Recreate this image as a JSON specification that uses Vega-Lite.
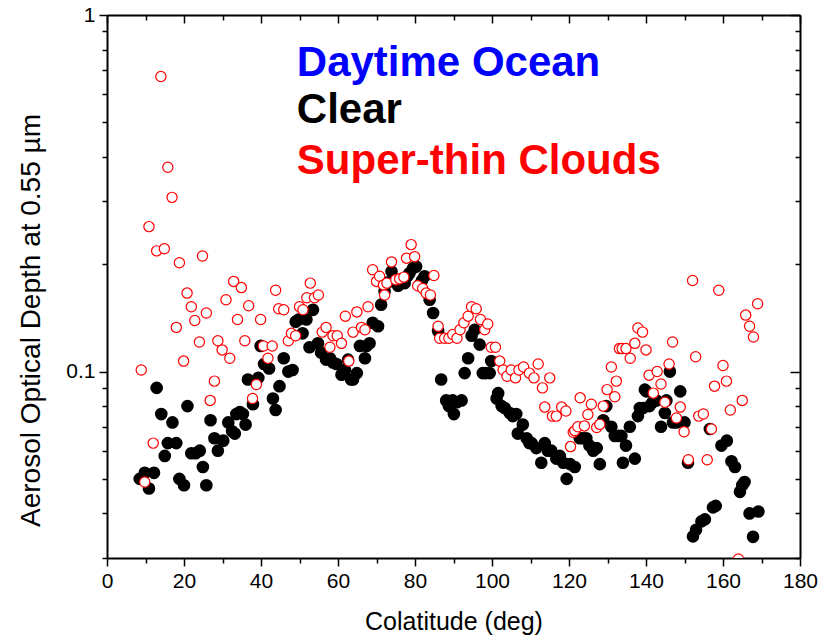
{
  "$schema": "https://vega.github.io/schema/vega-lite/v6.json",
  "width": 693,
  "height": 543,
  "autosize": {"type": "none"},
  "padding": {"left": 107, "top": 15, "right": 31, "bottom": 83},
  "background": "white",
  "config": {
    "view": {"stroke": null},
    "font": "Liberation Sans",
    "axis": {"grid": false, "domainColor": "black", "domainWidth": 2, "tickColor": "black", "tickWidth": 1.5, "labelColor": "black", "titleColor": "black", "labelFont": "Liberation Sans", "titleFont": "Liberation Sans", "titleFontWeight": "normal"}
  },
  "datasets": {
    "clear": [
      {"x": 8.5, "aod": 0.050}, {"x": 9.8, "aod": 0.052}, {"x": 10.9, "aod": 0.047}, {"x": 12.2, "aod": 0.052}, {"x": 12.9, "aod": 0.090},
      {"x": 14.1, "aod": 0.076}, {"x": 15.0, "aod": 0.058}, {"x": 15.8, "aod": 0.063}, {"x": 17.0, "aod": 0.072}, {"x": 18.0, "aod": 0.063},
      {"x": 18.8, "aod": 0.050}, {"x": 20.0, "aod": 0.048}, {"x": 20.9, "aod": 0.080}, {"x": 21.9, "aod": 0.059}, {"x": 23.0, "aod": 0.059},
      {"x": 24.1, "aod": 0.060}, {"x": 24.9, "aod": 0.054}, {"x": 25.8, "aod": 0.048}, {"x": 26.9, "aod": 0.073}, {"x": 27.9, "aod": 0.065},
      {"x": 28.8, "aod": 0.060}, {"x": 30.2, "aod": 0.064}, {"x": 31.5, "aod": 0.072}, {"x": 32.5, "aod": 0.068}, {"x": 33.2, "aod": 0.067},
      {"x": 33.6, "aod": 0.076}, {"x": 34.5, "aod": 0.077}, {"x": 35.3, "aod": 0.076}, {"x": 36.0, "aod": 0.071}, {"x": 36.6, "aod": 0.095},
      {"x": 37.9, "aod": 0.081}, {"x": 39.3, "aod": 0.096}, {"x": 39.9, "aod": 0.118}, {"x": 40.8, "aod": 0.105}, {"x": 42.1, "aod": 0.102},
      {"x": 43.1, "aod": 0.084}, {"x": 43.8, "aod": 0.078}, {"x": 44.8, "aod": 0.091}, {"x": 45.9, "aod": 0.109}, {"x": 47.1, "aod": 0.100},
      {"x": 48.2, "aod": 0.101}, {"x": 49.0, "aod": 0.138}, {"x": 49.8, "aod": 0.140}, {"x": 50.8, "aod": 0.128}, {"x": 51.8, "aod": 0.140},
      {"x": 52.6, "aod": 0.117}, {"x": 53.5, "aod": 0.149}, {"x": 54.8, "aod": 0.120}, {"x": 55.6, "aod": 0.113}, {"x": 56.9, "aod": 0.108},
      {"x": 57.9, "aod": 0.109}, {"x": 58.7, "aod": 0.106}, {"x": 59.6, "aod": 0.105}, {"x": 60.9, "aod": 0.098}, {"x": 61.8, "aod": 0.101},
      {"x": 62.6, "aod": 0.108}, {"x": 63.4, "aod": 0.095}, {"x": 63.9, "aod": 0.095}, {"x": 64.9, "aod": 0.099}, {"x": 65.7, "aod": 0.118},
      {"x": 67.0, "aod": 0.109}, {"x": 67.4, "aod": 0.118}, {"x": 68.2, "aod": 0.120}, {"x": 69.0, "aod": 0.137}, {"x": 70.4, "aod": 0.134},
      {"x": 71.2, "aod": 0.154}, {"x": 72.1, "aod": 0.168}, {"x": 73.0, "aod": 0.178}, {"x": 73.9, "aod": 0.191}, {"x": 74.8, "aod": 0.180},
      {"x": 75.6, "aod": 0.174}, {"x": 76.5, "aod": 0.180}, {"x": 77.3, "aod": 0.177}, {"x": 78.0, "aod": 0.185}, {"x": 78.6, "aod": 0.189},
      {"x": 79.5, "aod": 0.195}, {"x": 80.3, "aod": 0.197}, {"x": 81.2, "aod": 0.175}, {"x": 81.8, "aod": 0.180}, {"x": 82.5, "aod": 0.185},
      {"x": 83.8, "aod": 0.159}, {"x": 84.7, "aod": 0.146}, {"x": 86.0, "aod": 0.130}, {"x": 86.8, "aod": 0.095}, {"x": 88.1, "aod": 0.083},
      {"x": 88.8, "aod": 0.080}, {"x": 89.8, "aod": 0.083}, {"x": 90.1, "aod": 0.076}, {"x": 90.9, "aod": 0.082}, {"x": 92.1, "aod": 0.083},
      {"x": 92.9, "aod": 0.099}, {"x": 93.8, "aod": 0.109}, {"x": 94.7, "aod": 0.126}, {"x": 95.5, "aod": 0.131}, {"x": 96.8, "aod": 0.119},
      {"x": 97.6, "aod": 0.099}, {"x": 98.4, "aod": 0.099}, {"x": 99.4, "aod": 0.099}, {"x": 99.8, "aod": 0.107}, {"x": 101.2, "aod": 0.084},
      {"x": 101.6, "aod": 0.087}, {"x": 102.5, "aod": 0.080}, {"x": 103.3, "aod": 0.079}, {"x": 104.6, "aod": 0.0765}, {"x": 105.4, "aod": 0.075},
      {"x": 106.3, "aod": 0.076}, {"x": 106.7, "aod": 0.067}, {"x": 108.0, "aod": 0.071}, {"x": 109.0, "aod": 0.065}, {"x": 109.7, "aod": 0.063},
      {"x": 110.3, "aod": 0.063}, {"x": 111.5, "aod": 0.061}, {"x": 112.8, "aod": 0.0555}, {"x": 113.7, "aod": 0.063}, {"x": 114.5, "aod": 0.060},
      {"x": 115.4, "aod": 0.060}, {"x": 116.7, "aod": 0.057}, {"x": 117.6, "aod": 0.058}, {"x": 118.5, "aod": 0.0555}, {"x": 119.4, "aod": 0.050},
      {"x": 120.3, "aod": 0.055}, {"x": 121.5, "aod": 0.054}, {"x": 122.8, "aod": 0.065}, {"x": 123.6, "aod": 0.065}, {"x": 124.5, "aod": 0.065},
      {"x": 125.3, "aod": 0.062}, {"x": 126.3, "aod": 0.060}, {"x": 127.2, "aod": 0.061}, {"x": 128.0, "aod": 0.055}, {"x": 128.9, "aod": 0.073},
      {"x": 129.7, "aod": 0.080}, {"x": 131.0, "aod": 0.070}, {"x": 131.9, "aod": 0.066}, {"x": 132.8, "aod": 0.066}, {"x": 133.6, "aod": 0.066},
      {"x": 134.0, "aod": 0.0555}, {"x": 134.8, "aod": 0.062}, {"x": 135.8, "aod": 0.070}, {"x": 137.1, "aod": 0.057}, {"x": 137.9, "aod": 0.075},
      {"x": 138.4, "aod": 0.079}, {"x": 139.2, "aod": 0.079}, {"x": 139.7, "aod": 0.089}, {"x": 140.1, "aod": 0.088}, {"x": 140.9, "aod": 0.080},
      {"x": 141.7, "aod": 0.082}, {"x": 142.7, "aod": 0.083}, {"x": 143.9, "aod": 0.070}, {"x": 144.9, "aod": 0.0765}, {"x": 145.3, "aod": 0.083},
      {"x": 146.2, "aod": 0.100}, {"x": 147.0, "aod": 0.072}, {"x": 147.9, "aod": 0.072}, {"x": 148.9, "aod": 0.088}, {"x": 150.0, "aod": 0.072},
      {"x": 150.9, "aod": 0.0555}, {"x": 152.2, "aod": 0.0345}, {"x": 153.0, "aod": 0.036}, {"x": 154.4, "aod": 0.038}, {"x": 155.3, "aod": 0.0385},
      {"x": 156.6, "aod": 0.069}, {"x": 157.4, "aod": 0.0416}, {"x": 158.1, "aod": 0.042}, {"x": 159.6, "aod": 0.062}, {"x": 161.0, "aod": 0.064},
      {"x": 162.2, "aod": 0.056}, {"x": 163.1, "aod": 0.054}, {"x": 164.4, "aod": 0.046}, {"x": 165.0, "aod": 0.048}, {"x": 165.6, "aod": 0.049},
      {"x": 166.9, "aod": 0.040}, {"x": 167.8, "aod": 0.0344}, {"x": 169.2, "aod": 0.0405}
    ],
    "thin": [
      {"x": 8.9, "aod": 0.101}, {"x": 9.8, "aod": 0.049}, {"x": 10.9, "aod": 0.255}, {"x": 12.0, "aod": 0.063}, {"x": 12.9, "aod": 0.218},
      {"x": 14.0, "aod": 0.672}, {"x": 14.9, "aod": 0.221}, {"x": 15.8, "aod": 0.374}, {"x": 16.9, "aod": 0.308}, {"x": 18.0, "aod": 0.133},
      {"x": 18.8, "aod": 0.202}, {"x": 19.9, "aod": 0.107}, {"x": 20.8, "aod": 0.166}, {"x": 21.9, "aod": 0.152}, {"x": 22.8, "aod": 0.139},
      {"x": 24.0, "aod": 0.121}, {"x": 24.8, "aod": 0.211}, {"x": 25.8, "aod": 0.146}, {"x": 26.8, "aod": 0.083}, {"x": 27.9, "aod": 0.094},
      {"x": 28.8, "aod": 0.122}, {"x": 29.9, "aod": 0.115}, {"x": 30.9, "aod": 0.159}, {"x": 31.9, "aod": 0.109}, {"x": 32.9, "aod": 0.179},
      {"x": 33.9, "aod": 0.140}, {"x": 34.9, "aod": 0.172}, {"x": 35.8, "aod": 0.122}, {"x": 36.8, "aod": 0.153}, {"x": 37.8, "aod": 0.084},
      {"x": 38.8, "aod": 0.092}, {"x": 39.9, "aod": 0.140}, {"x": 40.6, "aod": 0.118}, {"x": 41.8, "aod": 0.109}, {"x": 42.9, "aod": 0.118},
      {"x": 43.8, "aod": 0.169}, {"x": 44.6, "aod": 0.150}, {"x": 45.9, "aod": 0.149}, {"x": 47.1, "aod": 0.122}, {"x": 47.9, "aod": 0.128},
      {"x": 49.0, "aod": 0.126}, {"x": 50.0, "aod": 0.152}, {"x": 50.9, "aod": 0.149}, {"x": 51.9, "aod": 0.161}, {"x": 52.8, "aod": 0.177},
      {"x": 53.9, "aod": 0.161}, {"x": 54.9, "aod": 0.164}, {"x": 55.9, "aod": 0.129}, {"x": 56.9, "aod": 0.133}, {"x": 57.9, "aod": 0.117},
      {"x": 58.7, "aod": 0.126}, {"x": 59.8, "aod": 0.126}, {"x": 60.9, "aod": 0.120}, {"x": 61.9, "aod": 0.143}, {"x": 62.8, "aod": 0.107},
      {"x": 63.9, "aod": 0.129}, {"x": 64.9, "aod": 0.147}, {"x": 66.1, "aod": 0.133}, {"x": 67.0, "aod": 0.131}, {"x": 67.8, "aod": 0.152},
      {"x": 69.0, "aod": 0.193}, {"x": 70.0, "aod": 0.179}, {"x": 70.8, "aod": 0.185}, {"x": 71.8, "aod": 0.175}, {"x": 72.1, "aod": 0.164},
      {"x": 72.7, "aod": 0.177}, {"x": 73.9, "aod": 0.203}, {"x": 75.0, "aod": 0.181}, {"x": 76.0, "aod": 0.182}, {"x": 77.1, "aod": 0.184},
      {"x": 77.8, "aod": 0.208}, {"x": 79.0, "aod": 0.227}, {"x": 79.9, "aod": 0.210}, {"x": 80.7, "aod": 0.174}, {"x": 82.0, "aod": 0.171},
      {"x": 82.9, "aod": 0.166}, {"x": 84.0, "aod": 0.164}, {"x": 84.9, "aod": 0.186}, {"x": 86.0, "aod": 0.134}, {"x": 86.4, "aod": 0.124},
      {"x": 87.7, "aod": 0.124}, {"x": 88.8, "aod": 0.124}, {"x": 89.8, "aod": 0.127}, {"x": 90.9, "aod": 0.124}, {"x": 91.7, "aod": 0.131},
      {"x": 92.7, "aod": 0.137}, {"x": 93.8, "aod": 0.143}, {"x": 94.7, "aod": 0.152}, {"x": 95.9, "aod": 0.150}, {"x": 97.0, "aod": 0.140},
      {"x": 98.1, "aod": 0.131}, {"x": 98.9, "aod": 0.136}, {"x": 99.8, "aod": 0.117}, {"x": 100.9, "aod": 0.117}, {"x": 102.0, "aod": 0.107},
      {"x": 102.9, "aod": 0.101}, {"x": 103.9, "aod": 0.097}, {"x": 105.0, "aod": 0.101}, {"x": 106.1, "aod": 0.096}, {"x": 107.0, "aod": 0.101},
      {"x": 108.2, "aod": 0.103}, {"x": 109.7, "aod": 0.099}, {"x": 110.9, "aod": 0.096}, {"x": 112.0, "aod": 0.105}, {"x": 113.1, "aod": 0.090},
      {"x": 113.7, "aod": 0.0795}, {"x": 115.0, "aod": 0.096}, {"x": 115.7, "aod": 0.075}, {"x": 116.7, "aod": 0.075}, {"x": 118.1, "aod": 0.0795},
      {"x": 119.2, "aod": 0.0775}, {"x": 120.4, "aod": 0.0616}, {"x": 121.1, "aod": 0.0676}, {"x": 121.5, "aod": 0.0683}, {"x": 122.3, "aod": 0.070},
      {"x": 122.9, "aod": 0.0844}, {"x": 124.0, "aod": 0.0704}, {"x": 124.9, "aod": 0.0758}, {"x": 125.8, "aod": 0.081}, {"x": 127.2, "aod": 0.0697},
      {"x": 128.0, "aod": 0.0711}, {"x": 128.9, "aod": 0.080}, {"x": 129.9, "aod": 0.089}, {"x": 131.0, "aod": 0.103}, {"x": 131.9, "aod": 0.085},
      {"x": 132.3, "aod": 0.094}, {"x": 133.1, "aod": 0.116}, {"x": 133.8, "aod": 0.116}, {"x": 134.8, "aod": 0.116}, {"x": 135.9, "aod": 0.109},
      {"x": 137.1, "aod": 0.120}, {"x": 137.9, "aod": 0.1325}, {"x": 139.1, "aod": 0.129}, {"x": 140.0, "aod": 0.115}, {"x": 140.8, "aod": 0.0977},
      {"x": 141.9, "aod": 0.087}, {"x": 142.9, "aod": 0.100}, {"x": 143.9, "aod": 0.0923}, {"x": 144.9, "aod": 0.082}, {"x": 146.0, "aod": 0.105},
      {"x": 146.9, "aod": 0.121}, {"x": 147.9, "aod": 0.0741}, {"x": 148.9, "aod": 0.0795}, {"x": 149.9, "aod": 0.0678}, {"x": 151.0, "aod": 0.0566},
      {"x": 152.1, "aod": 0.180}, {"x": 152.9, "aod": 0.110}, {"x": 153.7, "aod": 0.075}, {"x": 154.9, "aod": 0.076}, {"x": 155.9, "aod": 0.0566},
      {"x": 157.0, "aod": 0.069}, {"x": 157.8, "aod": 0.091}, {"x": 158.9, "aod": 0.169}, {"x": 160.0, "aod": 0.104}, {"x": 160.9, "aod": 0.094},
      {"x": 161.9, "aod": 0.078}, {"x": 164.0, "aod": 0.0298}, {"x": 165.0, "aod": 0.083}, {"x": 165.9, "aod": 0.144}, {"x": 166.9, "aod": 0.134},
      {"x": 167.9, "aod": 0.125}, {"x": 169.0, "aod": 0.155}
    ],
    "labels": [
      {"x": 49.3, "aod": 0.735, "series": "Daytime Ocean"},
      {"x": 49.3, "aod": 0.54, "series": "Clear"},
      {"x": 49.3, "aod": 0.39, "series": "Super-thin Clouds"}
    ]
  },
  "layer": [
    {
      "data": {"name": "clear"},
      "mark": {"type": "circle", "color": "black", "opacity": 1, "size": 160, "clip": true},
      "encoding": {
        "x": {"field": "x", "type": "quantitative", "scale": {"domain": [0, 180], "nice": false, "zero": false},
          "axis": {"orient": "bottom", "title": "Colatitude (deg)", "values": [0,10,20,30,40,50,60,70,80,90,100,110,120,130,140,150,160,170,180],
            "labelExpr": "datum.value % 20 === 0 ? datum.label : ''", "tickSize": {"condition": {"test": "datum.value % 20 === 0", "value": 8}, "value": 5},
            "labelFontSize": 21, "labelPadding": 4, "titleFontSize": 25, "titlePadding": 18, "labelFlush": false}},
        "y": {"field": "aod", "type": "quantitative", "scale": {"type": "log", "domain": [0.03, 1], "nice": false},
          "axis": {"orient": "left", "title": "Aerosol Optical Depth at 0.55 µm", "values": [0.03,0.04,0.05,0.06,0.07,0.08,0.09,0.1,0.2,0.3,0.4,0.5,0.6,0.7,0.8,0.9,1],
            "format": "~g", "labelExpr": "datum.value === 1 || datum.value === 0.1 ? datum.label : ''",
            "tickSize": {"condition": {"test": "datum.value === 1 || datum.value === 0.1", "value": 8}, "value": 5},
            "labelFontSize": 21, "labelPadding": 4, "titleFontSize": 28, "titlePadding": 20, "titleY": 305, "labelFlush": false}}
      }
    },
    {
      "data": {"name": "thin"},
      "mark": {"type": "point", "shape": "circle", "filled": false, "fill": "white", "fillOpacity": 1, "stroke": "#FF0000", "strokeWidth": 1.2, "opacity": 1, "size": 105, "clip": true},
      "encoding": {
        "x": {"field": "x", "type": "quantitative",
          "axis": {"orient": "top", "title": null, "labels": false, "values": [0,10,20,30,40,50,60,70,80,90,100,110,120,130,140,150,160,170,180],
            "tickSize": {"condition": {"test": "datum.value % 20 === 0", "value": -8}, "value": -5}}},
        "y": {"field": "aod", "type": "quantitative",
          "axis": {"orient": "right", "title": null, "labels": false, "values": [0.03,0.04,0.05,0.06,0.07,0.08,0.09,0.1,0.2,0.3,0.4,0.5,0.6,0.7,0.8,0.9,1],
            "tickSize": {"condition": {"test": "datum.value === 1 || datum.value === 0.1", "value": -10}, "value": -5}}}
      }
    },
    {
      "data": {"name": "labels"},
      "mark": {"type": "text", "align": "left", "baseline": "middle", "font": "Liberation Sans", "fontWeight": "bold", "fontSize": 42},
      "encoding": {
        "x": {"field": "x", "type": "quantitative", "axis": null},
        "y": {"field": "aod", "type": "quantitative", "axis": null},
        "text": {"field": "series"},
        "color": {"field": "series", "type": "nominal", "legend": null,
          "scale": {"domain": ["Daytime Ocean", "Clear", "Super-thin Clouds"], "range": ["#0000FF", "#000000", "#FF0000"]}}
      }
    }
  ],
  "resolve": {"axis": {"x": "independent", "y": "independent"}}
}
